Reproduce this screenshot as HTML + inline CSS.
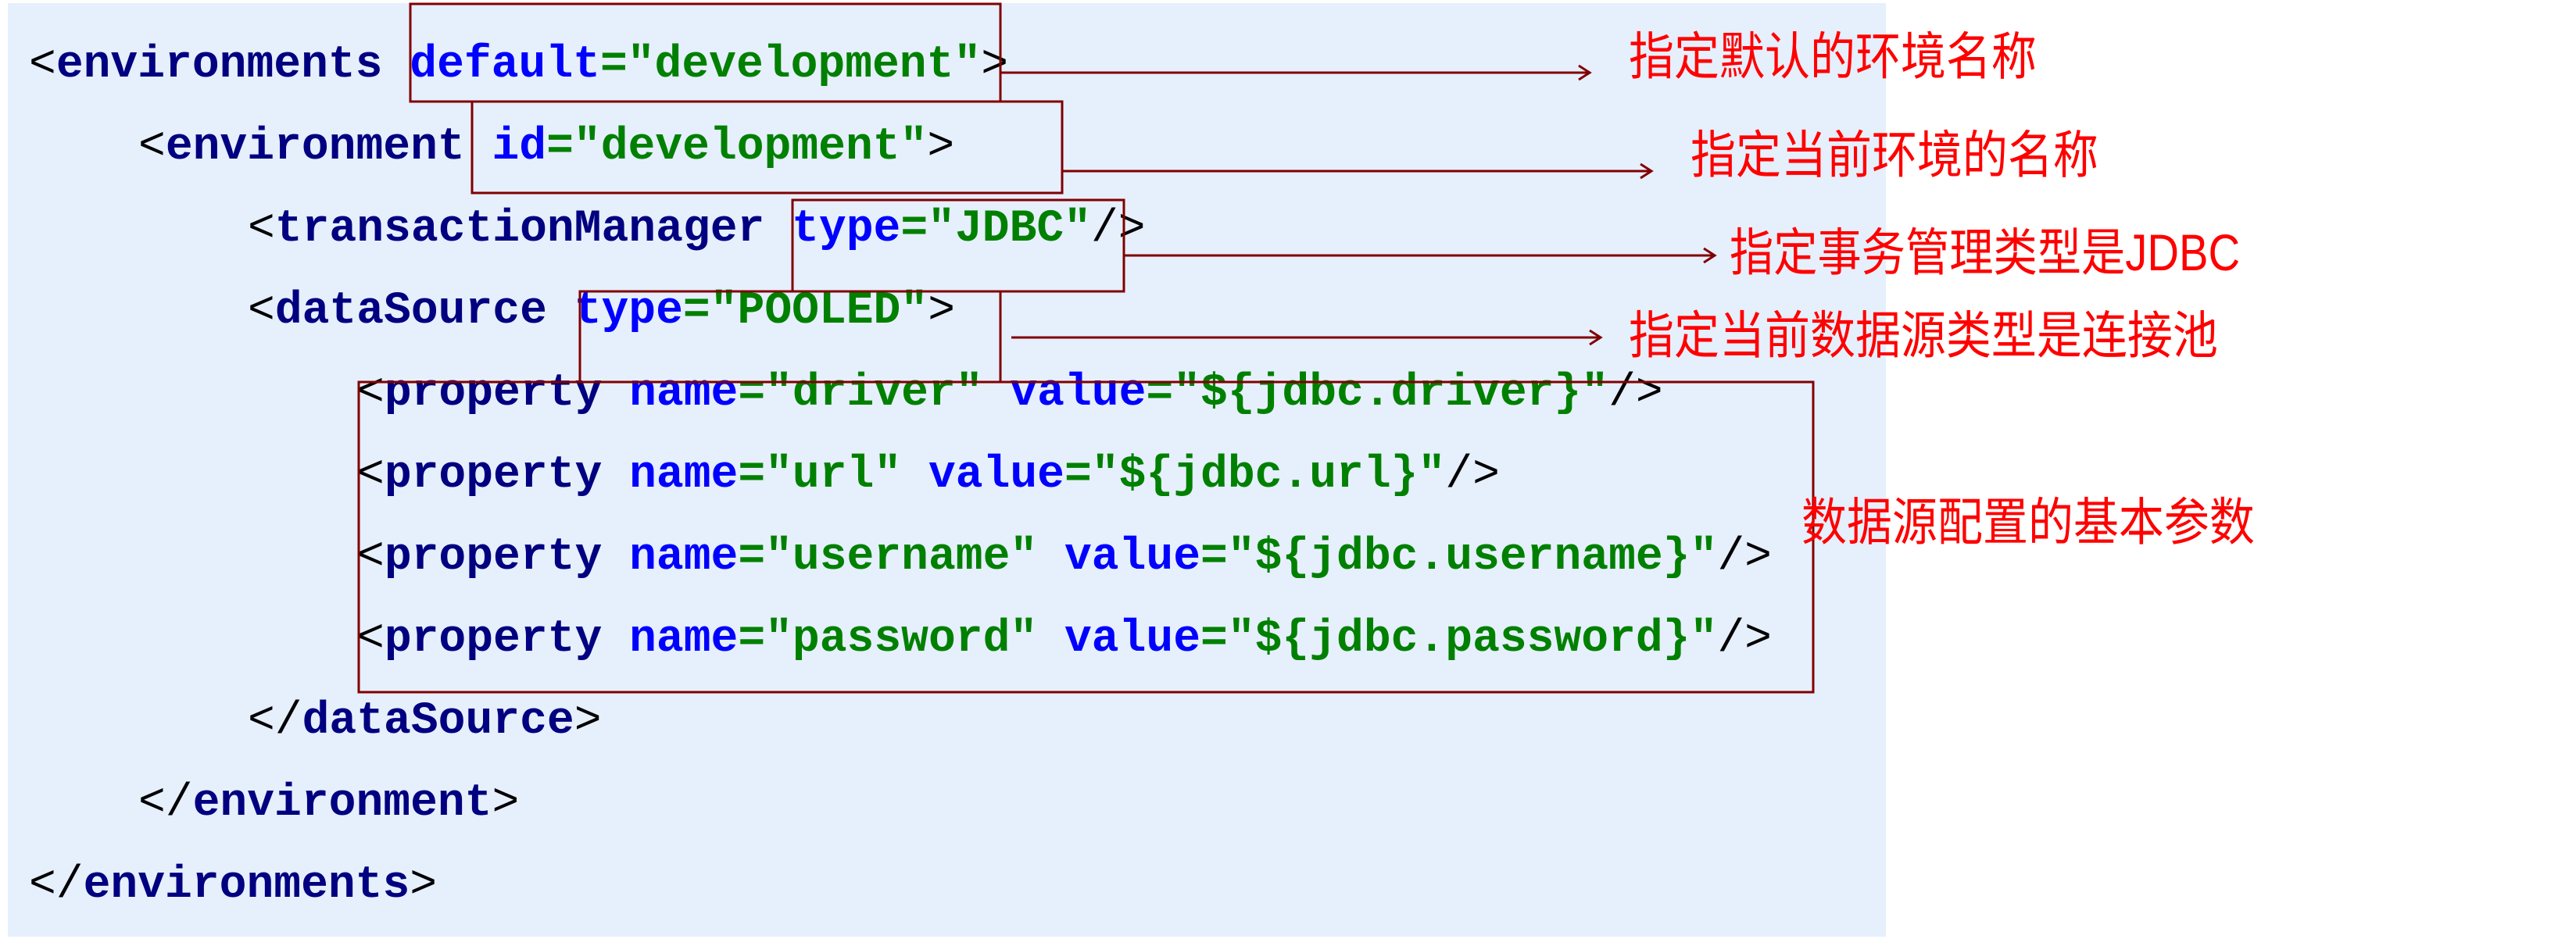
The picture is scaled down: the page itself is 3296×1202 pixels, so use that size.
<!DOCTYPE html>
<html><head><meta charset="utf-8"><style>
html,body{margin:0;padding:0;background:#fff;}
svg{display:block}
.c{font-family:"Liberation Mono",monospace;font-weight:bold;font-size:58px;}
.t{fill:#000080}.a{fill:#0000ff}.v{fill:#008000}.p{fill:#000;font-weight:normal}
.l{font-family:"Liberation Sans","Noto Sans CJK SC",sans-serif;font-size:58px;fill:#ff0000}
</style></head><body>
<svg width="3296" height="1202" xmlns="http://www.w3.org/2000/svg">
<rect x="10" y="4" width="2403" height="1195" fill="#e6effc"/>
<g class="c" xml:space="preserve">
<text x="37" y="98"><tspan class="p">&lt;</tspan><tspan class="t">environments </tspan><tspan class="a">default</tspan><tspan class="v">="development"</tspan><tspan class="p">&gt;</tspan></text>
<text x="177" y="203"><tspan class="p">&lt;</tspan><tspan class="t">environment </tspan><tspan class="a">id</tspan><tspan class="v">="development"</tspan><tspan class="p">&gt;</tspan></text>
<text x="317" y="308"><tspan class="p">&lt;</tspan><tspan class="t">transactionManager </tspan><tspan class="a">type</tspan><tspan class="v">="JDBC"</tspan><tspan class="p">/&gt;</tspan></text>
<text x="317" y="413"><tspan class="p">&lt;</tspan><tspan class="t">dataSource </tspan><tspan class="a">type</tspan><tspan class="v">="POOLED"</tspan><tspan class="p">&gt;</tspan></text>
<text x="457" y="518"><tspan class="p">&lt;</tspan><tspan class="t">property </tspan><tspan class="a">name</tspan><tspan class="v">="driver" </tspan><tspan class="a">value</tspan><tspan class="v">="${jdbc.driver}"</tspan><tspan class="p">/&gt;</tspan></text>
<text x="457" y="623"><tspan class="p">&lt;</tspan><tspan class="t">property </tspan><tspan class="a">name</tspan><tspan class="v">="url" </tspan><tspan class="a">value</tspan><tspan class="v">="${jdbc.url}"</tspan><tspan class="p">/&gt;</tspan></text>
<text x="457" y="728"><tspan class="p">&lt;</tspan><tspan class="t">property </tspan><tspan class="a">name</tspan><tspan class="v">="username" </tspan><tspan class="a">value</tspan><tspan class="v">="${jdbc.username}"</tspan><tspan class="p">/&gt;</tspan></text>
<text x="457" y="833"><tspan class="p">&lt;</tspan><tspan class="t">property </tspan><tspan class="a">name</tspan><tspan class="v">="password" </tspan><tspan class="a">value</tspan><tspan class="v">="${jdbc.password}"</tspan><tspan class="p">/&gt;</tspan></text>
<text x="317" y="938"><tspan class="p">&lt;/</tspan><tspan class="t">dataSource</tspan><tspan class="p">&gt;</tspan></text>
<text x="177" y="1043"><tspan class="p">&lt;/</tspan><tspan class="t">environment</tspan><tspan class="p">&gt;</tspan></text>
<text x="37" y="1148"><tspan class="p">&lt;/</tspan><tspan class="t">environments</tspan><tspan class="p">&gt;</tspan></text>
</g>
<g fill="none" stroke="#800000" stroke-width="3">
<rect x="525" y="5" width="755" height="125"/>
<rect x="604" y="130" width="755" height="117"/>
<rect x="1014" y="256" width="424" height="117"/>
<rect x="742" y="373" width="538" height="116"/>
<rect x="459" y="489" width="1861" height="397"/>
<path d="M1280 93H2033M2020 84L2034 93L2020 102"/>
<path d="M1359 219H2112M2099 210L2113 219L2099 228"/>
<path d="M1438 327H2193M2180 318L2194 327L2180 336"/>
<path d="M1294 432H2047M2034 423L2048 432L2034 441"/>
</g>
<g class="l">
<text transform="translate(2084,95) scale(1,1.13)">指定默认的环境名称</text>
<text transform="translate(2163,221) scale(1,1.13)">指定当前环境的名称</text>
<text transform="translate(2213,346) scale(0.97,1.13)">指定事务管理类型是JDBC</text>
<text transform="translate(2084,452) scale(1,1.13)">指定当前数据源类型是连接池</text>
<text transform="translate(2305,691) scale(1,1.13)">数据源配置的基本参数</text>
</g>
</svg>
</body></html>
